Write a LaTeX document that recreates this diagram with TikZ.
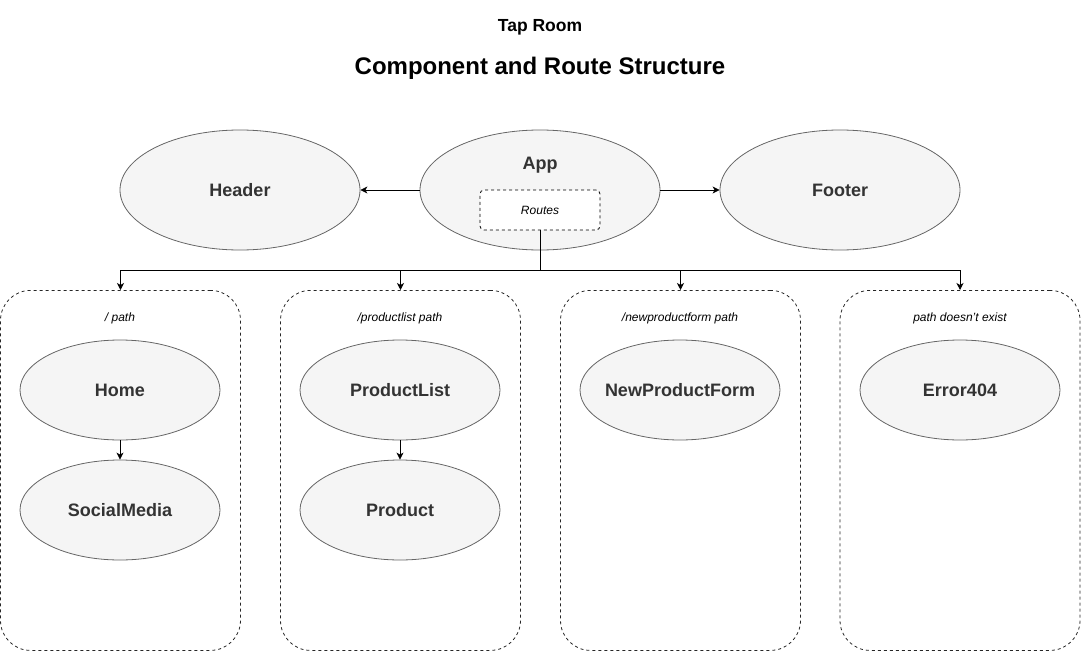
\documentclass[tikz,border=0pt]{standalone}
\usepackage{fontspec}
\setmainfont{Liberation Sans}
\usetikzlibrary{shapes.geometric,arrows.meta}
\definecolor{ellfill}{HTML}{F5F5F5}
\definecolor{ellline}{HTML}{666666}
\definecolor{txt}{HTML}{333333}
\begin{document}
\begin{tikzpicture}[x=1pt,y=-1pt,
  comp/.style={ellipse,draw=ellline,fill=ellfill,line width=0.8pt,inner sep=-12pt,
    text=txt,font=\fontsize{18}{20}\selectfont\bfseries},
  bigcomp/.style={comp,minimum width=240pt,minimum height=120pt},
  smallcomp/.style={comp,minimum width=200pt,minimum height=100pt},
  routebox/.style={draw,dashed,line width=0.8pt,rounded corners=4pt,minimum width=120pt,minimum height=40pt,inner sep=0pt,
    font=\fontsize{12}{14}\selectfont\itshape},
  container/.style={draw,dashed,line width=0.8pt,rounded corners=30pt,minimum width=240pt,minimum height=360pt,inner sep=0pt,color=black!85},
  lbl/.style={font=\fontsize{12}{14}\selectfont\itshape,inner sep=0pt},
  arr/.style={-{Stealth[length=7pt,width=7pt,inset=2pt]},line width=0.8pt},
  ln/.style={line width=0.8pt}]
\useasboundingbox (0,0) rectangle (1081,661);
\node[font=\fontsize{17.5}{19}\selectfont\bfseries] (t1) at (540,27) {Tap Room};
\node[font=\fontsize{24}{26}\selectfont\bfseries] (t2) at (540,68) {Component and Route Structure};

\node[bigcomp] (header) at (240,190) {Header};
\node[bigcomp] (app) at (540,190) {};
\node[comp,draw=none,fill=none] (apptxt) at (540,165) {App};
\node[bigcomp] (footer) at (840,190) {Footer};
\node[routebox,fill=white] (routes) at (540,210) {Routes};

\draw[arr] (app.west) -- (header.east);
\draw[arr] (app.east) -- (footer.west);

\node[container,anchor=north] (c1) at (120.5,290) {};
\node[container,anchor=north] (c2) at (400.5,290) {};
\node[container,anchor=north] (c3) at (680.5,290) {};
\node[container,anchor=north] (c4) at (960,290) {};

\coordinate (split) at (540,270);
\draw[ln] (routes.south) -- (split);
\draw[arr] (split) -| (c1.north);
\draw[arr] (split) -| (c2.north);
\draw[arr] (split) -| (c3.north);
\draw[arr] (split) -| (c4.north);

\node[lbl] (l1) at (120,318) {/ path};
\node[lbl] (l2) at (400,318) {/productlist path};
\node[lbl] (l3) at (680,318) {/newproductform path};
\node[lbl] (l4) at (960,318) {path doesn't exist};

\node[smallcomp] (home) at (120,390) {Home};
\node[smallcomp] (social) at (120,510) {SocialMedia};
\node[smallcomp] (plist) at (400,390) {ProductList};
\node[smallcomp] (prod) at (400,510) {Product};
\node[smallcomp] (npf) at (680,390) {NewProductForm};
\node[smallcomp] (err) at (960,390) {Error404};

\draw[arr] (home) -- (social);
\draw[arr] (plist) -- (prod);
\end{tikzpicture}
\end{document}
